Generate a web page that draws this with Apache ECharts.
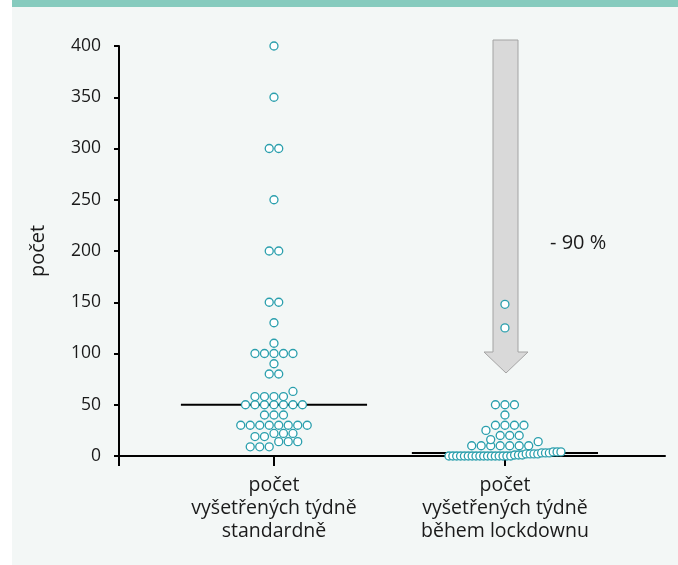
<!DOCTYPE html>
<html><head><meta charset="utf-8">
<script src="https://cdn.jsdelivr.net/npm/echarts@6/dist/echarts.min.js"></script>
<style>
html,body{margin:0;padding:0;background:#fff;}
#c{width:678px;height:565px;
background:linear-gradient(#86cbbe,#86cbbe) 12px 0/666px 7px no-repeat,linear-gradient(#f3f7f6,#f3f7f6) 12px 0/666px 565px no-repeat,#fff;}
</style>
</head><body><div id="c"></div>
<script>
// ---- data ----
const categories = ['počet\nvyšetřených týdně\nstandardně', 'počet\nvyšetřených týdně\nběhem lockdownu'];
const standardValues = [400,350,300,300,250,200,200,150,150,130,110,100,100,100,100,100,90,80,80,63,58,58,58,58,
  50,50,50,50,50,50,50,40,40,40,30,30,30,30,30,30,30,30,22,22,22,19,19,14,14,14,9,9,9];
const lockdownValues = [148,125,50,50,50,40,30,30,30,30,25,20,20,20,16,14,10,10,10,10,10,10,10,
  0,0,0,0,0,0,0,0,0,0,0,0,0,0,0,0,0,1,1,1,2,2,2,2,3,3,3,4,4,4];
const yMin = 0, yMax = 400, yStep = 50;
const yAxisName = 'počet';
const reductionLabel = '- 90 %';

const FONT = 'Open Sans';
const X_MIN = -0.671, X_MAX = 1.693;
const STEP = 9.5/231;      // dot spacing in category units
const MAXSPAN = 112/231;   // widest row

function swarm(values, ci){
  const sorted = values.slice().sort((a,b)=>a-b);
  const bins = new Map();
  sorted.forEach(v=>{const k=Math.round(v/10); if(!bins.has(k)) bins.set(k,[]); bins.get(k).push(v);});
  const pts=[];
  bins.forEach(arr=>{
    const n=arr.length; let s=STEP;
    if((n-1)*s>MAXSPAN) s=MAXSPAN/(n-1);
    arr.forEach((v,i)=>pts.push([ci+(i-(n-1)/2)*s, v]));
  });
  return pts;
}
function median(values){
  const s=values.slice().sort((a,b)=>a-b); const n=s.length;
  return n%2 ? s[(n-1)/2] : (s[n/2-1]+s[n/2])/2;
}
const groups=[standardValues, lockdownValues];

const series=[];
groups.forEach((vals,ci)=>{
  const m=median(vals);
  series.push({type:'line', data:[[ci-0.403,m],[ci+0.403,m]], symbol:'none', silent:true,
    lineStyle:{color:'#000', width:2}, z:2});
});
groups.forEach((vals,ci)=>{
  series.push({type:'scatter', data:swarm(vals,ci), symbol:'circle', symbolSize:8,
    itemStyle:{color:'#ffffff', borderColor:'#2a9fad', borderWidth:1.3, opacity:1}, z:3});
});

const chart=echarts.init(document.getElementById('c'),null,{renderer:'canvas'});
chart.setOption({
  backgroundColor:'transparent',
  animation:false,
  grid:{left:119,right:13,top:46,bottom:109},
  xAxis:{type:'value', min:X_MIN, max:X_MAX,
    axisLine:{show:true, onZero:false, lineStyle:{color:'#000', width:2}},
    axisTick:{show:true, customValues:[X_MIN,0,1], length:10, lineStyle:{color:'#000', width:2}},
    axisLabel:{customValues:[0,1], formatter:v=>categories[Math.round(v)], color:'#1a1a1a',
      fontFamily:FONT, fontSize:19.5, lineHeight:23, margin:18},
    splitLine:{show:false}},
  yAxis:{type:'value', min:yMin, max:yMax, interval:yStep, name:yAxisName, nameLocation:'middle',
    nameGap:71, nameTextStyle:{fontFamily:FONT, fontSize:20, color:'#1a1a1a'},
    axisLine:{show:true, onZero:false, lineStyle:{color:'#000', width:2}},
    axisTick:{show:true, length:5, lineStyle:{color:'#000', width:2}},
    axisLabel:{color:'#1a1a1a', fontFamily:FONT, fontSize:17.5, margin:18},
    splitLine:{show:false}},
  graphic:[
    {type:'polygon', z:1, shape:{points:[[493,40],[518,40],[518,352],[528,352],[506,373],[484,352],[493,352]]},
      style:{fill:'#d9d9d9', stroke:'#a3a3a3', lineWidth:1}},
    {type:'text', z:5, left:550, top:233, style:{text:reductionLabel, fontFamily:FONT, fontSize:20, fill:'#1a1a1a'}}
  ],
  series:series
});
</script>
</body></html>
